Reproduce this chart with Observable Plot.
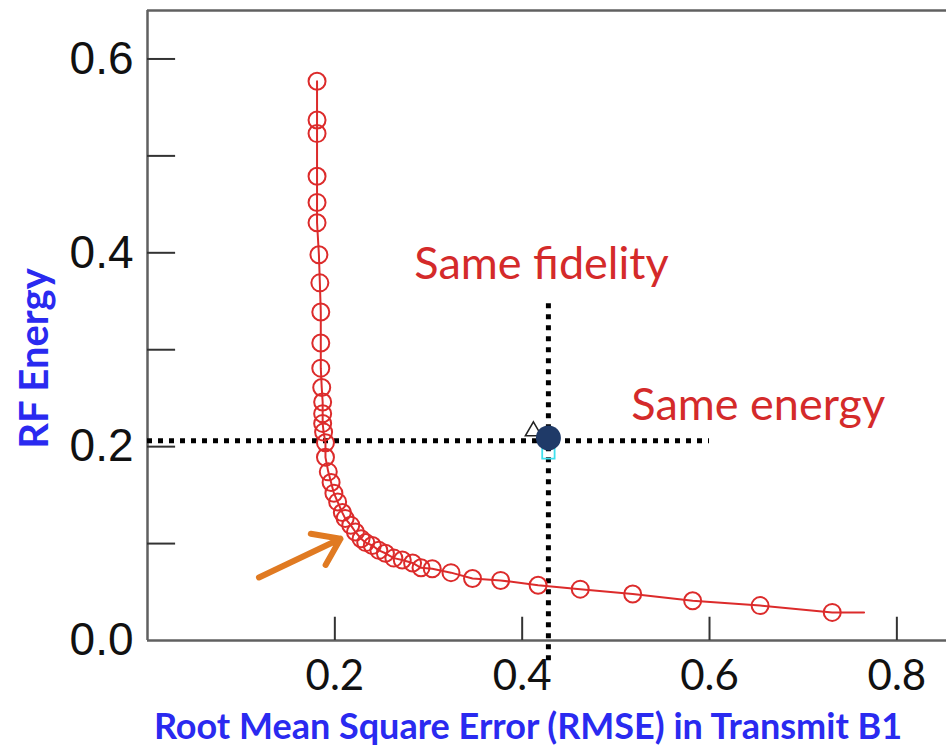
<!DOCTYPE html>
<html>
<head>
<meta charset="utf-8">
<script src="https://cdn.jsdelivr.net/npm/d3@7"></script>
<script src="https://cdn.jsdelivr.net/npm/@observablehq/plot@0.6"></script>
<style>
  html, body { margin: 0; padding: 0; background: #fff; }
  #chart svg { display: block; }
</style>
</head>
<body>
<div id="chart"></div>
<script>
// Pareto curve markers (RMSE vs RF energy)
const rmse = [0.181,0.181,0.181,0.181,0.181,0.181,0.183,0.184,0.185,0.185,0.185,0.186,0.187,0.187,0.187,0.188,0.190,0.190,0.193,0.196,0.199,0.203,0.208,0.211,0.217,0.222,0.228,0.233,0.240,0.247,0.254,0.263,0.272,0.283,0.292,0.304,0.324,0.347,0.377,0.417,0.462,0.518,0.582,0.654,0.731];
const energy = [0.577,0.537,0.523,0.479,0.452,0.431,0.398,0.369,0.339,0.307,0.281,0.261,0.246,0.234,0.224,0.215,0.204,0.189,0.174,0.163,0.152,0.143,0.132,0.126,0.119,0.112,0.105,0.101,0.098,0.093,0.090,0.085,0.083,0.080,0.075,0.074,0.070,0.064,0.062,0.057,0.053,0.048,0.041,0.036,0.029];
// line tail beyond the last marker
const tailRmse = [0.765];
const tailEnergy = [0.029];

// reference design point and guide lines
const refRmse = 0.428;
const refEnergy = 0.209;
const sameEnergyLevel = 0.206;
const sameEnergyRmseEnd = 0.6;
const sameFidelityTop = 0.35;
const sameFidelityBottom = -0.021;

// arrow pointing to the knee
const arrowFrom = [0.119, 0.065];
const arrowTo = [0.206, 0.105];

// ticks
const xTickLabels = [0.2, 0.4, 0.6, 0.8];
const yTickLabels = [0.0, 0.2, 0.4, 0.6];
const yTicks = [0.1, 0.2, 0.3, 0.4, 0.5, 0.6];

// annotations
const labels = ["Same fidelity", "Same energy"];
const labelX = [0.4206, 0.652];
const labelY = [0.388, 0.242];

const xTitle = "Root Mean Square Error (RMSE) in Transmit B1";
const yTitle = "RF Energy";

const pts = rmse.map((x, i) => ({x, y: energy[i]}));
const linePts = pts.concat(tailRmse.map((x, i) => ({x, y: tailEnergy[i]})));
const ann = labels.map((t, i) => ({t, x: labelX[i], y: labelY[i]}));

const RED = "#dc2b2b";
const AXIS = "#606060";
const BLUE = "#2a2af0";

const chart = Plot.plot({
  width: 946,
  height: 752,
  marginLeft: 147,
  marginRight: 0,
  marginTop: 10,
  marginBottom: 112,
  style: {background: "white", overflow: "visible"},
  x: {domain: [0, 0.853], axis: null},
  y: {domain: [0, 0.65], axis: null},
  marks: [
    // frame
    Plot.ruleX([0], {y1: 0, y2: 0.65, stroke: AXIS, strokeWidth: 2.5}),
    Plot.ruleY([0, 0.65], {x1: 0, x2: 0.853, stroke: AXIS, strokeWidth: 2.5}),
    // inward ticks
    Plot.ruleX(xTickLabels, {y1: 0, y2: 0.024, stroke: "#333", strokeWidth: 2}),
    Plot.ruleY(yTicks, {x1: 0, x2: 0.03, stroke: "#333", strokeWidth: 2}),
    // tick labels
    Plot.axisX(xTickLabels, {ticks: xTickLabels, tickSize: 0, tickPadding: 20, tickFormat: d => d.toFixed(1),
      fontSize: 42, fontFamily: "Lato", fill: "#111", label: null}),
    Plot.axisY(yTickLabels, {ticks: yTickLabels, tickSize: 0, tickPadding: 14, tickFormat: d => d.toFixed(1),
      fontSize: 46, fontFamily: "Liberation Sans", fill: "#111", label: null}),
    // dotted guide lines
    Plot.ruleY([sameEnergyLevel], {x1: 0, x2: sameEnergyRmseEnd, stroke: "#000", strokeWidth: 5, strokeDasharray: "5,6"}),
    Plot.ruleX([refRmse], {y1: sameFidelityBottom, y2: sameFidelityTop, stroke: "#000", strokeWidth: 5, strokeDasharray: "5,6"}),
    // curve
    Plot.line(linePts, {x: "x", y: "y", stroke: RED, strokeWidth: 2}),
    Plot.dot(pts, {x: "x", y: "y", r: 8.5, stroke: RED, strokeWidth: 2, fill: "none"}),
    // reference point with small overlapping markers
    Plot.dot([{x: refRmse, y: refEnergy - 0.015}], {x: "x", y: "y", symbol: "square", r: 7, stroke: "#3fe0ee", strokeWidth: 1.8, fill: "none"}),
    Plot.dot([{x: refRmse - 0.016, y: refEnergy + 0.007}], {x: "x", y: "y", symbol: "triangle", r: 6, stroke: "#222", strokeWidth: 1.5, fill: "none"}),
    Plot.dot([{x: refRmse, y: refEnergy}], {x: "x", y: "y", r: 12.5, fill: "#1f3a68", stroke: "none"}),
    // annotations
    Plot.text(ann, {x: "x", y: "y", text: "t", fontSize: 45, fontFamily: "Lato", fill: "#d42a2a"}),
    Plot.arrow([{x1: arrowFrom[0], y1: arrowFrom[1], x2: arrowTo[0], y2: arrowTo[1]}],
      {x1: "x1", y1: "y1", x2: "x2", y2: "y2", stroke: "#e07a22", strokeWidth: 6, headLength: 20, headAngle: 70}),
    // axis titles
    Plot.text([xTitle], {frameAnchor: "bottom", textAnchor: "middle", lineAnchor: "middle", dy: 87, dx: -19,
      fontSize: 36, fontWeight: "bold", fontFamily: "Lato", fill: BLUE}),
    Plot.text([yTitle], {frameAnchor: "left", textAnchor: "middle", lineAnchor: "middle", dx: -112, dy: 33, rotate: -90,
      fontSize: 40, fontWeight: "bold", fontFamily: "Lato", fill: BLUE})
  ]
});
document.getElementById("chart").append(chart);
</script>
</body>
</html>
